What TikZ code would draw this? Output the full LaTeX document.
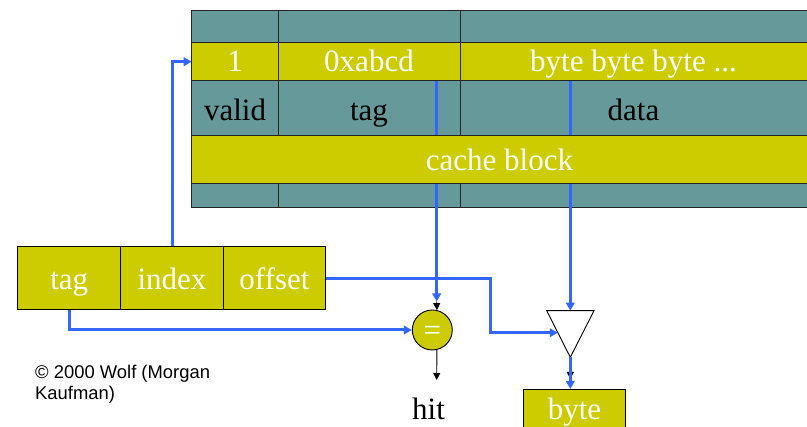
\documentclass[tikz,border=0pt]{standalone}
\usepackage{fontspec}
\setmainfont{Liberation Serif}
\newfontfamily\arialf{Liberation Sans}
\usetikzlibrary{arrows.meta,calc}
\definecolor{tealc}{HTML}{669999}
\definecolor{ylwc}{HTML}{CCCC00}
\definecolor{linkc}{HTML}{3366FF}
\tikzset{
  cellline/.style={draw=black!85, line width=1pt},
  bigfont/.style={font=\fontsize{31}{34}\selectfont},
  wtxt/.style={bigfont, text=white, anchor=base, inner sep=0pt},
  btxt/.style={bigfont, text=black, anchor=base, inner sep=0pt},
  fieldbox/.style={draw=black, line width=1pt, fill=ylwc, bigfont, text=white,
    inner sep=0pt, minimum height=63.3pt, text height=23.4pt, text depth=0pt},
  link/.style={draw=linkc, line width=3pt, -{Triangle[length=8pt,width=8.5pt]}},
  blkarrow/.style={draw=black, line width=0.9pt, -{Triangle[length=7pt,width=7pt]}},
  copyfont/.style={font=\arialf\fontsize{18.4}{20.5}\selectfont, anchor=base west, inner sep=0pt}
}
\begin{document}
\begin{tikzpicture}[x=1pt,y=-1pt]
\useasboundingbox (0,0) rectangle (807,427);
% table rows
\foreach \ya/\yb/\c in {10.7/42.3/tealc, 42.3/81/ylwc, 81/136/tealc, 183.3/207.3/tealc} {
  \draw[cellline, fill=\c] (191.7,\ya) rectangle (278.3,\yb);
  \draw[cellline, fill=\c] (278.3,\ya) rectangle (460,\yb);
  \draw[cellline, fill=\c] (460,\ya) rectangle (812,\yb);
}
% named points
\coordinate (tagcol) at (436.7,81);
\coordinate (datacol) at (570.3,81);
\coordinate (rowIn) at (191.7,61.7);
\coordinate (eqin) at (436.7,301.5);
\coordinate (triTop) at (570.3,310.7);
\coordinate (triBot) at (570.3,357.3);
\coordinate (triIn) at (557.8,332.7);
\coordinate (offTurn) at (490,332.7);
\coordinate (byteIn) at (570.3,389);
\coordinate (blkEnd) at (570.3,379);
% field boxes
\node[fieldbox, minimum width=103pt] (tagb) at (69.2,278.3) {tag};
\node[fieldbox, minimum width=102.6pt] (idx) at (172,278.3) {index};
\node[fieldbox, minimum width=102.4pt] (offb) at (274.5,278.3) {offset};
% comparator
\node[circle, draw=black, line width=0.9pt, fill=ylwc, minimum size=40pt, inner sep=0pt,
  bigfont, text=white, text height=22pt, text depth=0pt] (eq) at (432.3,330) {=};
\coordinate (hitEnd) at (436.7,380);
% lines from table columns (behind cache block row)
\draw[link] (tagcol) -- (eqin);
\draw[link] (datacol) -- (triTop);
% cache block row
\draw[cellline, fill=ylwc] (191.7,136) rectangle (812,183.3);
% table texts
\node[wtxt] (v1) at (235,72) {1};
\node[wtxt] (vtag) at (369,72) {0xabcd};
\node[wtxt] (vdata) at (633.5,72) {byte byte byte ...};
\node[btxt] (lvalid) at (235,120.5) {valid};
\node[btxt] (ltag) at (369,120.5) {tag};
\node[btxt] (ldata) at (633.5,120.5) {data};
\node[wtxt] (lblock) at (499.5,170.7) {cache block};
% multiplexer triangle
\draw[draw=black, line width=0.9pt, fill=white] (546.7,310.7) -- (594,310.7) -- (triBot) -- cycle;
% output box
\node[draw=black, line width=1pt, fill=ylwc, inner sep=0pt,
  minimum width=102.4pt, minimum height=60pt, anchor=north] (byteb) at (574.5,389) {};
\node[wtxt] (bytet) at (574.5,419.3) {byte};
\node[btxt] (hit) at (428.5,420) {hit};
% connectors
\draw[link] (idx.north) |- (rowIn);
\draw[link] (tagb.south) |- (eq.west);
\draw[link] (offb.east) -| (offTurn) -- (triIn);
\draw[blkarrow] (eqin) -- (eq.77);
\draw[blkarrow] (eq.-77) -- (hitEnd);
\draw[blkarrow] (triBot) -- (blkEnd);
\draw[link] (triBot) -- (byteIn);
% copyright
\node[copyfont] (copy1) at (35,379) {© 2000 Wolf (Morgan};
\node[copyfont] (copy2) at (35,399.5) {Kaufman)};
\end{tikzpicture}
\end{document}
